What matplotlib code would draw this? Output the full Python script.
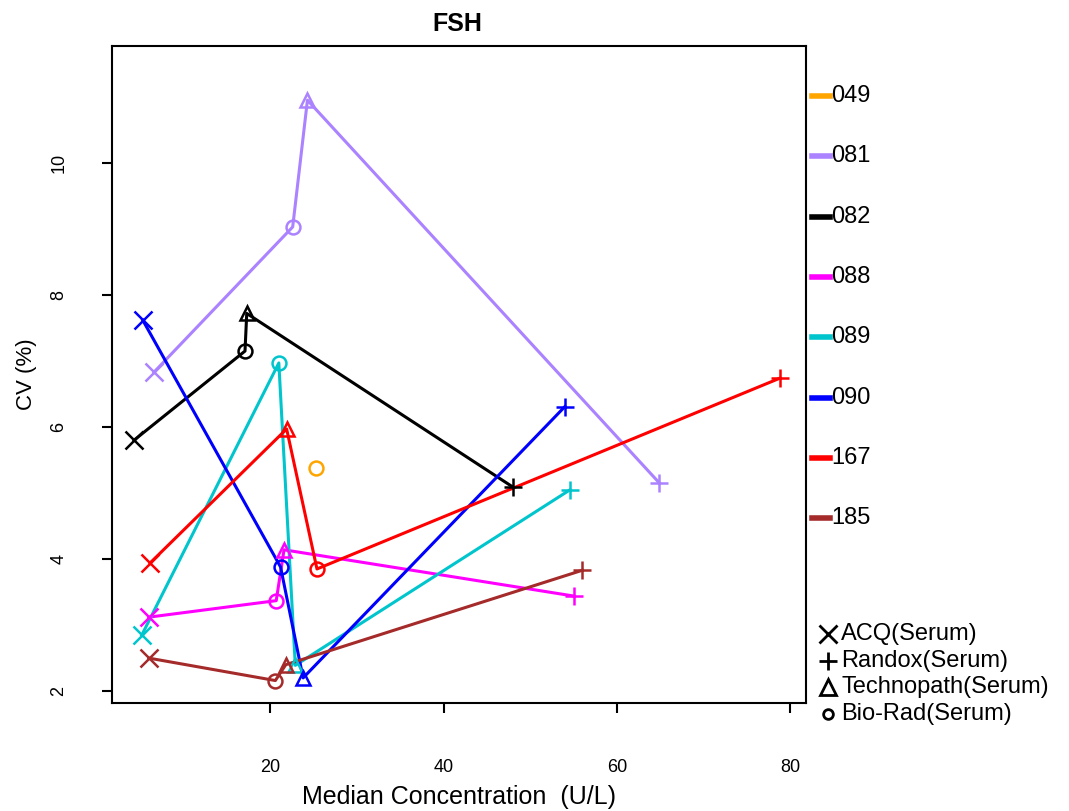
import matplotlib.pyplot as plt
from matplotlib.lines import Line2D

plt.rcParams['font.family'] = ['Liberation Sans', 'DejaVu Sans']

# lab codes and colours
labs = ['049', '081', '082', '088', '089', '090', '167', '185']
colours = ['#FFA500', '#AB82FF', '#000000', '#FF00FF', '#00C5CD', '#0000FF', '#FF0000', '#A52A2A']

# methods and markers
methods = ['ACQ(Serum)', 'Randox(Serum)', 'Technopath(Serum)', 'Bio-Rad(Serum)']
markers = {'ACQ(Serum)': 'x', 'Randox(Serum)': '+', 'Technopath(Serum)': '^', 'Bio-Rad(Serum)': 'o'}

# per lab: list of (method, median concentration, CV)
lab_049 = [('Bio-Rad(Serum)', 25.3, 5.38)]
lab_081 = [('ACQ(Serum)', 6.6, 6.83), ('Bio-Rad(Serum)', 22.6, 9.03),
           ('Technopath(Serum)', 24.3, 10.95), ('Randox(Serum)', 64.9, 5.15)]
lab_082 = [('ACQ(Serum)', 4.3, 5.80), ('Bio-Rad(Serum)', 17.1, 7.15),
           ('Technopath(Serum)', 17.3, 7.72), ('Randox(Serum)', 48.0, 5.09)]
lab_088 = [('ACQ(Serum)', 6.0, 3.12), ('Bio-Rad(Serum)', 20.7, 3.37),
           ('Technopath(Serum)', 21.6, 4.14), ('Randox(Serum)', 55.0, 3.44)]
lab_089 = [('ACQ(Serum)', 5.2, 2.85), ('Bio-Rad(Serum)', 21.0, 6.97),
           ('Technopath(Serum)', 22.9, 2.39), ('Randox(Serum)', 54.6, 5.05)]
lab_090 = [('ACQ(Serum)', 5.3, 7.62), ('Bio-Rad(Serum)', 21.2, 3.88),
           ('Technopath(Serum)', 23.8, 2.20), ('Randox(Serum)', 54.0, 6.31)]
lab_167 = [('ACQ(Serum)', 6.15, 3.94), ('Technopath(Serum)', 21.9, 5.97),
           ('Bio-Rad(Serum)', 25.4, 3.85), ('Randox(Serum)', 78.8, 6.74)]
lab_185 = [('ACQ(Serum)', 6.0, 2.50), ('Bio-Rad(Serum)', 20.6, 2.16),
           ('Technopath(Serum)', 21.8, 2.40), ('Randox(Serum)', 56.0, 3.83)]

lab_data = [lab_049, lab_081, lab_082, lab_088, lab_089, lab_090, lab_167, lab_185]

fig = plt.figure(figsize=(10.69, 8.11), dpi=100)
ax = fig.add_axes([112 / 1069, 1 - 703 / 811, (806 - 112) / 1069, (703 - 46) / 811])

for pts, col in zip(lab_data, colours):
    xs = [p[1] for p in pts]
    ys = [p[2] for p in pts]
    ax.plot(xs, ys, color=col, lw=2.2, zorder=2)
    for m, x, y in pts:
        mk = markers[m]
        if mk in ('o', '^'):
            ax.plot(x, y, marker=mk, ms=10, mfc='none', mec=col, mew=1.8, ls='none', zorder=3)
        else:
            ax.plot(x, y, marker=mk, ms=13, color=col, mew=1.8, ls='none', zorder=3)

ax.set_xlim(1.76, 81.8)
ax.set_ylim(1.82, 11.77)
ax.set_xticks([20, 40, 60, 80])
ax.set_yticks([2, 4, 6, 8, 10])
ax.tick_params(direction='out', length=7, width=1.5, labelsize=13)
ax.tick_params(axis='x', pad=33)
ax.tick_params(axis='y', pad=25)
for lbl in ax.get_yticklabels():
    lbl.set_rotation(90)
    lbl.set_va('center')
for s in ax.spines.values():
    s.set_linewidth(1.5)

ax.set_xlabel('Median Concentration  (U/L)', fontsize=18, labelpad=7)
ax.set_ylabel('CV (%)', fontsize=16, labelpad=10)
fig.text(457 / 1069, 1 - 24 / 811, 'FSH', ha='center', va='center', fontsize=18, fontweight='bold')

# lab legend outside on the right
y0 = 96
for i, (lab, col) in enumerate(zip(labs, colours)):
    yp = 1 - (y0 + i * 60.3) / 811
    fig.add_artist(Line2D([812 / 1069, 830 / 1069], [yp, yp], color=col, lw=4))
    fig.text(831 / 1069, yp, lab, fontsize=17, va='center', ha='left')

# method legend
for i, m in enumerate(methods):
    yp = 1 - (634 + i * 26.7) / 811
    mk = markers[m]
    if mk in ('o', '^'):
        fig.add_artist(Line2D([828 / 1069], [yp], marker=mk, ms=11 if mk == '^' else 7,
                              mfc='none', mec='black', mew=2, ls='none'))
    else:
        fig.add_artist(Line2D([828 / 1069], [yp], marker=mk, ms=13, color='black', mew=2, ls='none'))
    fig.text(841 / 1069, yp, m, fontsize=17, va='center', ha='left')

fig.savefig('out.png', dpi=100)
